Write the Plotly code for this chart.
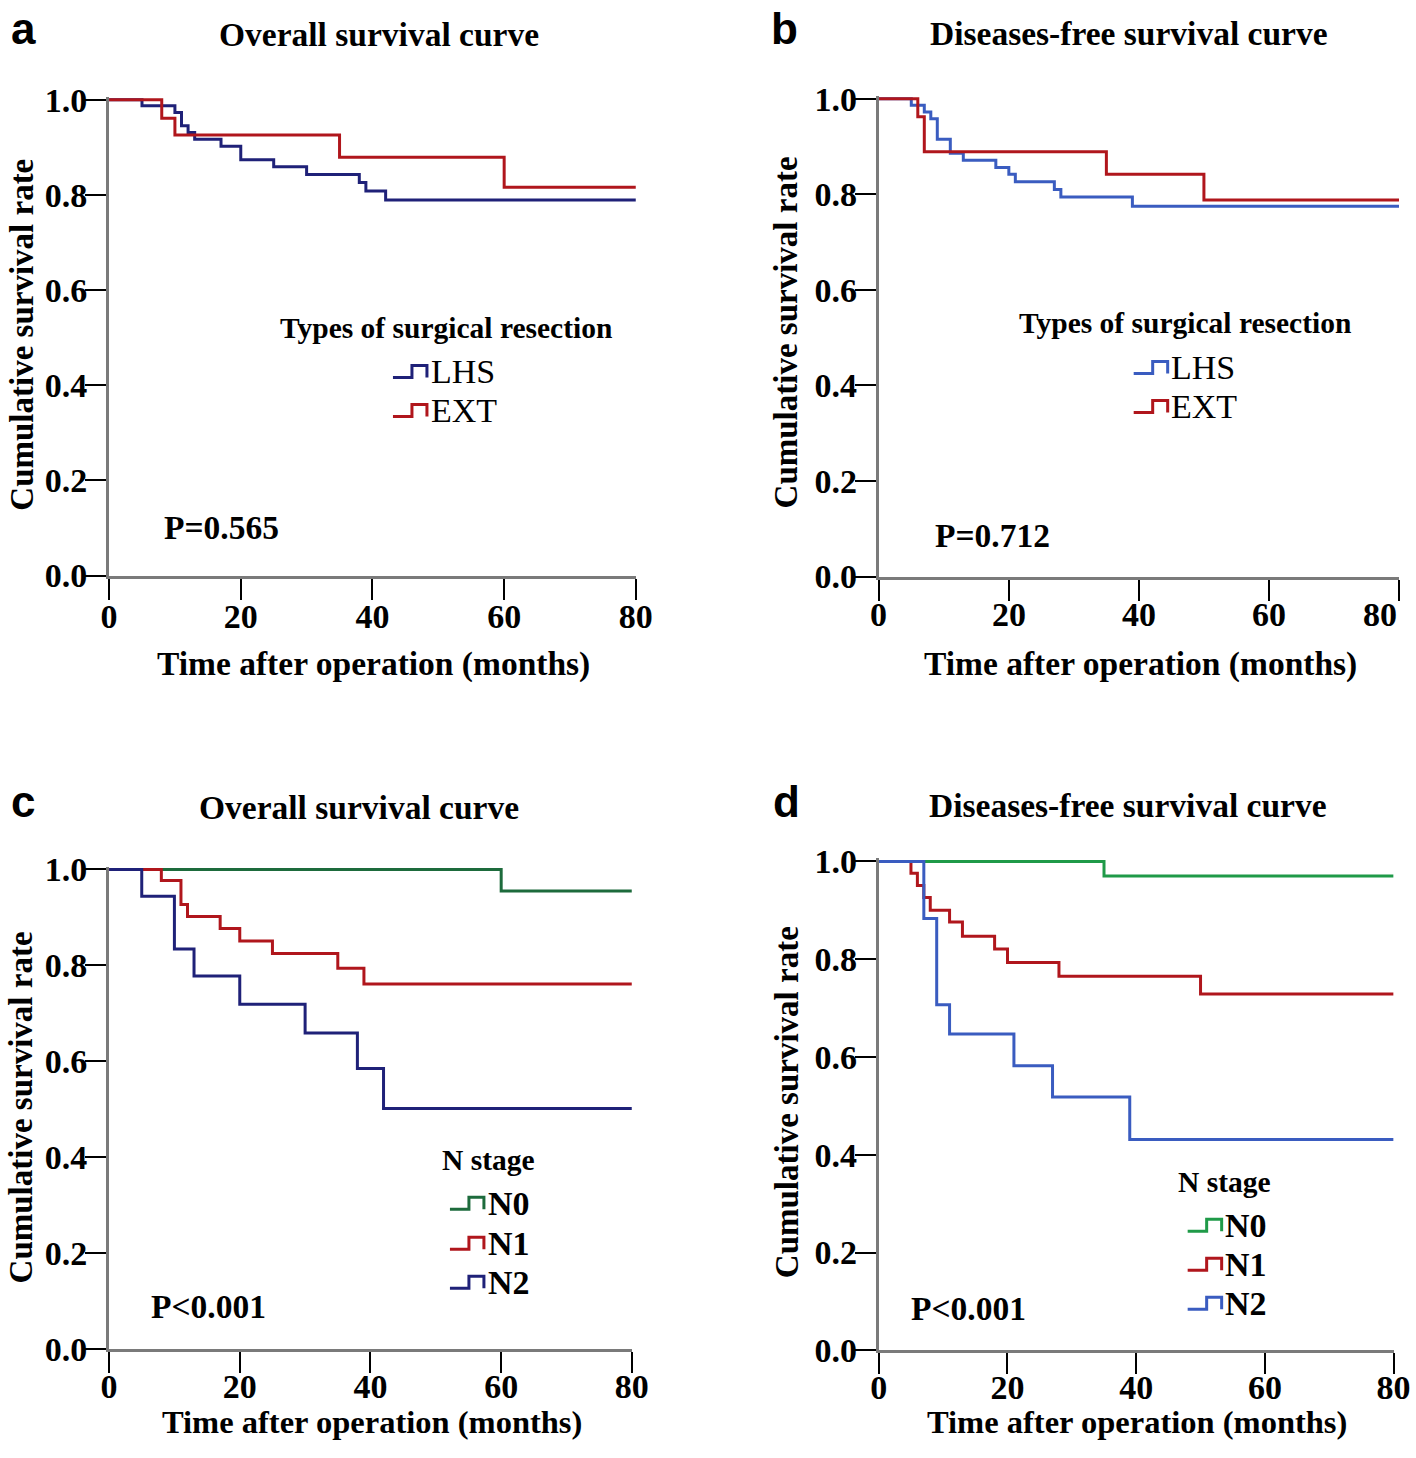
import plotly.graph_objects as go

W, H = 1416, 1458
END = 80  # follow-up end (months)

# ---------------- data ----------------
# Panel a: Overall survival by type of surgical resection
a_lhs_t = [5, 10, 11, 12, 13, 17, 20, 25, 30, 38, 39, 42]
a_lhs_s = [0.987, 0.973, 0.945, 0.931, 0.917, 0.902, 0.874, 0.859, 0.843, 0.826, 0.808, 0.789]
a_ext_t = [8, 10, 35, 60]
a_ext_s = [0.961, 0.926, 0.879, 0.816]

# Panel b: Disease-free survival by type of surgical resection
b_lhs_t = [5, 7, 8, 9, 11, 13, 18, 20, 21, 27, 28, 39]
b_lhs_s = [0.986, 0.972, 0.958, 0.915, 0.886, 0.871, 0.856, 0.842, 0.826, 0.810, 0.794, 0.775]
b_ext_t = [6, 7, 35, 50]
b_ext_s = [0.962, 0.889, 0.842, 0.788]

# Panel c: Overall survival by N stage
c_n0_t = [60]
c_n0_s = [0.955]
c_n1_t = [8, 11, 12, 17, 20, 25, 35, 39]
c_n1_s = [0.977, 0.927, 0.902, 0.877, 0.851, 0.825, 0.794, 0.761]
c_n2_t = [5, 10, 13, 20, 30, 38, 42]
c_n2_s = [0.944, 0.834, 0.778, 0.719, 0.659, 0.585, 0.502]

# Panel d: Disease-free survival by N stage
d_n0_t = [35]
d_n0_s = [0.970]
d_n1_t = [5, 6, 7, 8, 11, 13, 18, 20, 28, 50]
d_n1_s = [0.976, 0.951, 0.926, 0.900, 0.876, 0.847, 0.821, 0.793, 0.765, 0.729]
d_n2_t = [7, 9, 11, 21, 27, 39]
d_n2_s = [0.883, 0.707, 0.647, 0.582, 0.518, 0.431]

x_ticks = [0, 20, 40, 60, 80]
y_ticks = [0.0, 0.2, 0.4, 0.6, 0.8, 1.0]

NAVY = "#1f2178"
RED = "#b0161c"
BLUE = "#3a5cc0"
DGREEN = "#1d6b3c"
GREEN = "#1f9a48"

SERIF = "Liberation Serif"
SANS = "Liberation Sans"

# photographed picture ~= A + B * page pixel (measured); invert to place items
AX, BX = 6.9, 0.982
AY, BY = 15.3, 0.977


def pg_x(t):
    return (t - AX) / BX


def pg_y(t):
    return (t - AY) / BY


def fx(t):  # target picture x -> paper fraction
    return pg_x(t) / W


def fy(t):  # target picture y -> paper fraction
    return 1 - pg_y(t) / H


def clamp(v):
    return max(0.0, min(1.0, v))


# ---------------- layout geometry (target picture pixels) ----------------
panels = [
    dict(k="", px0=107, px1=634, py0=576, py1=100,
         title="Overall survival curve", tpos=(377, 35), letter="a", lpos=(1, 29),
         xt=(372, 665), yt=(19, 335),
         curves=[(a_lhs_t, a_lhs_s, NAVY, "LHS"), (a_ext_t, a_ext_s, RED, "EXT")],
         leg_title="Types of surgical resection", leg_tpos=(444, 328),
         glyph_x=391, text_x=427, leg_y=[372, 411], bold_items=False,
         ptext="P=0.565", ppos=(160, 528), xlab_ann=False, xstand=-12),
    dict(k="2", px0=877, px1=1399, py0=577, py1=99,
         title="Diseases-free survival curve", tpos=(1127, 34), letter="b", lpos=(767, 29),
         xt=(1139, 665), yt=(784, 333),
         curves=[(b_lhs_t, b_lhs_s, BLUE, "LHS"), (b_ext_t, b_ext_s, RED, "EXT")],
         leg_title="Types of surgical resection", leg_tpos=(1183, 323),
         glyph_x=1132, text_x=1167, leg_y=[368, 407], bold_items=False,
         ptext="P=0.712", ppos=(931, 536), xlab_ann=True, xstand=-12),
    dict(k="3", px0=107, px1=630, py0=1350, py1=870,
         title="Overall survival curve", tpos=(357, 808), letter="c", lpos=(1, 802),
         xt=(370, 1438), yt=(19, 1108),
         curves=[(c_n0_t, c_n0_s, DGREEN, "N0"), (c_n1_t, c_n1_s, RED, "N1"),
                 (c_n2_t, c_n2_s, NAVY, "N2")],
         leg_title="N stage", leg_tpos=(487, 1161),
         glyph_x=448, text_x=484, leg_y=[1204, 1244, 1283], bold_items=True,
         ptext="P<0.001", ppos=(147, 1307), xlab_ann=False, xstand=-16),
    dict(k="4", px0=877, px1=1392, py0=1351, py1=862,
         title="Diseases-free survival curve", tpos=(1126, 806), letter="d", lpos=(769, 802),
         xt=(1135, 1438), yt=(786, 1103),
         curves=[(d_n0_t, d_n0_s, GREEN, "N0"), (d_n1_t, d_n1_s, RED, "N1"),
                 (d_n2_t, d_n2_s, BLUE, "N2")],
         leg_title="N stage", leg_tpos=(1223, 1183),
         glyph_x=1186, text_x=1221, leg_y=[1226, 1265, 1304], bold_items=True,
         ptext="P<0.001", ppos=(907, 1309), xlab_ann=False, xstand=-16),
]

Y_LO, Y_HI = 0.0, 1.006
TICK_FONT = dict(family=SERIF, size=34, color="black", weight="bold")
MAX_TEXT_Y = 1441  # lowest page y (centre) that keeps the bottom titles inside the page

fig = go.Figure()
annotations = []
shapes = []

for p in panels:
    k = p["k"]
    xa = "x" + k
    ya = "y" + k
    s = p["py0"] - p["py1"]
    top = p["py1"] - (Y_HI - 1) * s
    bottom = p["py0"] + (0 - Y_LO) * s
    xdom = [clamp(fx(p["px0"])), clamp(fx(p["px1"]))]
    ydom = [clamp(fy(bottom)), clamp(fy(top))]

    axis_common = dict(showgrid=False, zeroline=False, showline=True,
                       linecolor="#7a7a7a", linewidth=3, ticks="outside",
                       ticklen=21, tickwidth=2, tickcolor="black",
                       tickfont=TICK_FONT)
    fig.update_layout(**{
        "xaxis" + k: dict(domain=xdom, range=[0, END], tickvals=x_ticks,
                          anchor=ya, ticklabelstandoff=p["xstand"],
                          showticklabels=not p["xlab_ann"], **axis_common),
        "yaxis" + k: dict(domain=ydom, range=[Y_LO, Y_HI], tickvals=y_ticks,
                          tickformat=".1f", anchor=xa, ticklabelstandoff=-9,
                          **axis_common),
    })

    if p["xlab_ann"]:
        # tick labels written as text on the axis scale (last one kept inside page)
        for v in x_ticks:
            annotations.append(dict(text=str(v), x=v, xref=xa, y=fy(615), yref="paper",
                                    showarrow=False,
                                    xanchor="right" if v == x_ticks[-1] else "center",
                                    yanchor="middle", font=TICK_FONT))

    for t, sv, col, name in p["curves"]:
        xs = [0] + list(t) + [END]
        ys = [1.0] + list(sv) + [sv[-1]]
        fig.add_trace(go.Scatter(x=xs, y=ys, mode="lines", line_shape="hv",
                                 line=dict(color=col, width=3), name=name,
                                 xaxis=xa, yaxis=ya, showlegend=False,
                                 hoverinfo="skip"))

    annotations.append(dict(text=p["title"], x=fx(p["tpos"][0]), y=fy(p["tpos"][1]),
                            xref="paper", yref="paper", showarrow=False,
                            xanchor="center", yanchor="middle",
                            font=dict(family=SERIF, size=33.5, color="black", weight="bold")))
    annotations.append(dict(text=p["letter"], x=clamp(fx(p["lpos"][0])), y=fy(p["lpos"][1]),
                            xref="paper", yref="paper", showarrow=False,
                            xanchor="left", yanchor="middle",
                            font=dict(family=SANS, size=44, color="black", weight="bold")))
    bottom_row = pg_y(p["xt"][1]) > MAX_TEXT_Y
    xt_y = min(pg_y(p["xt"][1]), MAX_TEXT_Y)
    annotations.append(dict(text="Time after operation (months)",
                            x=fx(p["xt"][0]), y=1 - xt_y / H,
                            xref="paper", yref="paper", showarrow=False,
                            xanchor="center", yanchor="middle",
                            font=dict(family=SERIF, size=32.5 if bottom_row else 33.5,
                                      color="black", weight="bold")))
    annotations.append(dict(text="Cumulative survival rate",
                            x=fx(p["yt"][0]), y=fy(p["yt"][1]),
                            xref="paper", yref="paper", showarrow=False, textangle=-90,
                            xanchor="center", yanchor="middle",
                            font=dict(family=SERIF, size=33, color="black", weight="bold")))
    annotations.append(dict(text=p["leg_title"], x=fx(p["leg_tpos"][0]),
                            y=fy(p["leg_tpos"][1]),
                            xref="paper", yref="paper", showarrow=False,
                            xanchor="center", yanchor="middle",
                            font=dict(family=SERIF, size=29.5, color="black", weight="bold")))
    for (t, sv, col, name), ly in zip(p["curves"], p["leg_y"]):
        gx0 = p["glyph_x"]
        gx1 = gx0 + 34
        gxm = gx0 + 19
        yb = ly + 6
        yt_ = ly - 6
        path = (f"M {fx(gx0)},{fy(yb)} L {fx(gxm)},{fy(yb)} "
                f"L {fx(gxm)},{fy(yt_)} L {fx(gx1)},{fy(yt_)} "
                f"L {fx(gx1)},{fy(yb)}")
        shapes.append(dict(type="path", path=path, xref="paper", yref="paper",
                           line=dict(color=col, width=3)))
        annotations.append(dict(text=name, x=fx(p["text_x"]), y=fy(ly),
                                xref="paper", yref="paper", showarrow=False,
                                xanchor="left", yanchor="middle",
                                font=dict(family=SERIF, size=34, color="black",
                                          weight="bold" if p["bold_items"] else "normal")))
    annotations.append(dict(text=p["ptext"], x=fx(p["ppos"][0]), y=fy(p["ppos"][1]),
                            xref="paper", yref="paper", showarrow=False,
                            xanchor="left", yanchor="middle",
                            font=dict(family=SERIF, size=33.5, color="black", weight="bold")))

fig.update_layout(width=W, height=H, margin=dict(l=0, r=0, t=0, b=0),
                  paper_bgcolor="white", plot_bgcolor="white",
                  annotations=annotations, shapes=shapes, showlegend=False)

fig.write_html("out.html", config={"displayModeBar": False},
               post_script="document.body.style.margin='0';"
                           "document.body.style.overflow='hidden';")
